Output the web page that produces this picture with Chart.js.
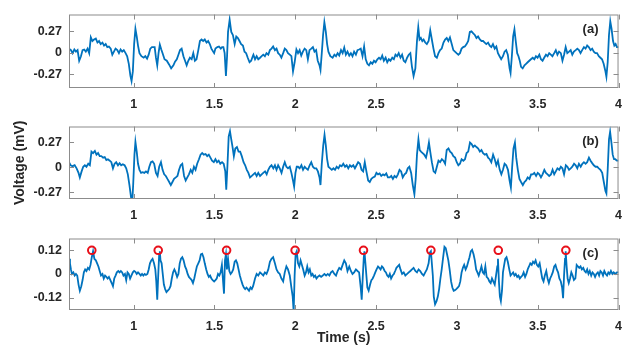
<!DOCTYPE html>
<html>
<head>
<meta charset="utf-8">
<script src="https://cdn.jsdelivr.net/npm/chart.js@4.4.1/dist/chart.umd.min.js"></script>
<style>
  body { margin: 0; background: #fff; }
  #wrap { position: relative; width: 631px; height: 347px; overflow: hidden; }
  #wrap canvas { position: absolute; left: 0; }
</style>
</head>
<body>
<div id="wrap">
  <canvas id="chartA" width="631" height="112" style="top:0px"></canvas>
  <canvas id="chartB" width="631" height="112" style="top:112px"></canvas>
  <canvas id="chartC" width="631" height="123" style="top:224px"></canvas>
</div>
<script>
// tick labels
const xTicks = [1, 1.5, 2, 2.5, 3, 3.5, 4];
const yTicksAB = [-0.27, 0, 0.27];
const yTicksC = [-0.12, 0, 0.12];

// (a) raw signal
const timeA = [
  0.600, 0.612, 0.622, 0.633, 0.643, 0.653, 0.663, 0.674, 0.684, 0.694,
  0.704, 0.715, 0.725, 0.735, 0.745, 0.755, 0.766, 0.776, 0.786, 0.796,
  0.807, 0.817, 0.827, 0.837, 0.847, 0.858, 0.868, 0.878, 0.888, 0.899,
  0.909, 0.919, 0.929, 0.939, 0.950, 0.960, 0.970, 0.980, 0.987, 0.995,
  1.003, 1.011, 1.019, 1.027, 1.036, 1.048, 1.062, 1.072, 1.083, 1.093,
  1.103, 1.113, 1.130, 1.138, 1.146, 1.154, 1.162, 1.171, 1.179, 1.191,
  1.205, 1.220, 1.232, 1.246, 1.256, 1.267, 1.277, 1.287, 1.297, 1.308,
  1.318, 1.328, 1.338, 1.348, 1.359, 1.369, 1.379, 1.389, 1.400, 1.410,
  1.420, 1.430, 1.440, 1.451, 1.461, 1.471, 1.481, 1.492, 1.498, 1.506,
  1.518, 1.528, 1.539, 1.547, 1.555, 1.563, 1.571, 1.578, 1.584, 1.594,
  1.604, 1.614, 1.625, 1.635, 1.645, 1.655, 1.665, 1.676, 1.686, 1.696,
  1.706, 1.717, 1.727, 1.737,
  1.741, 1.751, 1.761, 1.771, 1.782, 1.792, 1.802, 1.812, 1.822, 1.833,
  1.843, 1.853, 1.863, 1.874, 1.884, 1.894, 1.904, 1.914, 1.925, 1.935,
  1.945, 1.955, 1.966, 1.976, 1.986, 1.996, 2.007, 2.017, 2.027, 2.037,
  2.047, 2.058, 2.068, 2.078, 2.088, 2.099, 2.109, 2.119, 2.129, 2.139,
  2.150, 2.156, 2.164, 2.172, 2.180, 2.189, 2.197, 2.205, 2.217, 2.231,
  2.242, 2.252, 2.262, 2.272, 2.283, 2.293, 2.303, 2.313, 2.323, 2.334,
  2.344, 2.354, 2.364, 2.375, 2.385, 2.395, 2.405, 2.416, 2.426, 2.436,
  2.446, 2.456, 2.467, 2.477, 2.487, 2.497, 2.508, 2.518, 2.528, 2.538,
  2.548, 2.559, 2.569, 2.579, 2.589, 2.600, 2.610, 2.620, 2.630, 2.640,
  2.651, 2.661, 2.671, 2.681, 2.692, 2.702, 2.712, 2.722, 2.732, 2.743,
  2.753, 2.761, 2.769, 2.777, 2.786, 2.794, 2.804, 2.814, 2.825, 2.835,
  2.845, 2.855,
  2.865, 2.876, 2.886, 2.896, 2.906, 2.917, 2.927, 2.937, 2.947, 2.957,
  2.968, 2.978, 2.988, 2.998, 3.009, 3.019, 3.029, 3.039, 3.049, 3.060,
  3.070, 3.080, 3.090, 3.101, 3.111, 3.121, 3.131, 3.142, 3.152, 3.162,
  3.172, 3.182, 3.193, 3.203, 3.213, 3.223, 3.234, 3.244, 3.254, 3.264,
  3.274, 3.285, 3.295, 3.305, 3.315, 3.326, 3.332, 3.340, 3.348, 3.356,
  3.364, 3.373, 3.381, 3.389, 3.397, 3.407, 3.418, 3.428, 3.438, 3.448,
  3.458, 3.469, 3.479, 3.489, 3.499, 3.510, 3.520, 3.530, 3.540, 3.551,
  3.561, 3.571, 3.581, 3.591, 3.602, 3.612, 3.622, 3.632, 3.643, 3.653,
  3.663, 3.673, 3.683, 3.694, 3.704, 3.714, 3.724, 3.735, 3.745, 3.755,
  3.765, 3.775, 3.786, 3.796, 3.806, 3.816, 3.827, 3.837, 3.847, 3.857,
  3.867, 3.878, 3.888, 3.898, 3.908, 3.919, 3.925, 3.933, 3.941, 3.949,
  3.957, 3.966, 3.974, 3.982, 3.990, 4.000
];
const voltA = [
  0.053, 0.034, -0.004, 0.042, 0.015, 0.034, -0.099, -0.042, 0.034, 0.042,
  0.015, 0.053, -0.004, 0.194, 0.148, 0.167, 0.179, 0.129, 0.148, 0.110,
  0.129, 0.091, 0.110, 0.072, 0.080, 0.053, -0.023, 0.015, 0.053, 0.034,
  -0.004, 0.042, 0.015, 0.034, -0.004, -0.042, -0.137, -0.289, -0.353, -0.232,
  0.110, 0.300, 0.205, 0.091, -0.004, -0.042, -0.061, -0.042, -0.072, -0.023,
  0.053, 0.072, 0.072, -0.061, -0.156, -0.004, 0.103, 0.042, -0.004, -0.080,
  -0.099, -0.148, -0.194, -0.156, -0.110, -0.080, -0.023, 0.034, 0.053, -0.042,
  -0.099, -0.156, -0.099, -0.061, -0.080, -0.004, -0.099, -0.080, 0.034, 0.148,
  0.167, 0.148, 0.167, 0.129, 0.148, 0.110, 0.053, 0.015, -0.004, 0.053,
  0.072, 0.080, 0.053, 0.072, 0.072, -0.004, -0.289, -0.042, 0.262, 0.414,
  0.262, 0.224, 0.110, 0.205, 0.186, 0.148, 0.110, 0.091, 0.015, -0.004,
  -0.061, -0.118, -0.099, -0.042,
  -0.023, -0.080, -0.042, -0.080, -0.061, -0.042, -0.023, -0.042, -0.004, -0.023,
  0.034, 0.053, 0.080, 0.034, 0.053, -0.004, -0.023, -0.061, -0.004, 0.053,
  0.034, -0.004, -0.023, -0.042, -0.232, -0.118, 0.042, -0.004, 0.034, -0.034,
  0.015, 0.053, 0.034, -0.080, 0.034, 0.053, 0.072, 0.015, 0.034, -0.099,
  -0.156, -0.213, -0.004, 0.224, 0.384, 0.262, 0.110, 0.015, -0.042, -0.061,
  -0.023, -0.042, -0.004, -0.034, 0.034, -0.004, 0.065, -0.023, 0.015, -0.034,
  -0.004, -0.042, 0.015, -0.023, 0.034, 0.042, 0.053, -0.042, 0.080, -0.080,
  -0.137, -0.156, -0.118, -0.137, -0.099, -0.118, -0.080, -0.061, -0.080, -0.034,
  -0.099, -0.061, -0.118, -0.080, -0.099, -0.061, -0.080, -0.023, -0.042, -0.004,
  -0.061, -0.023, -0.099, -0.118, -0.061, -0.023, -0.004, -0.175, -0.289, -0.194,
  0.148, 0.319, 0.167, 0.186, 0.148, 0.167, 0.129, 0.110, 0.148, 0.281,
  0.167, 0.053,
  -0.042, -0.061, -0.004, 0.034, 0.053, 0.129, 0.167, 0.186, 0.148, 0.194,
  0.110, 0.034, 0.015, -0.004, -0.023, -0.004, 0.053, 0.072, 0.080, 0.110,
  0.148, 0.262, 0.270, 0.243, 0.224, 0.186, 0.205, 0.167, 0.148, 0.148,
  0.129, 0.110, 0.129, 0.091, 0.072, 0.110, 0.053, 0.080, -0.004, -0.042,
  -0.080, -0.042, 0.015, 0.034, -0.023, -0.194, -0.251, -0.042, 0.205, 0.293,
  0.148, -0.004, -0.042, -0.099, -0.175, -0.194, -0.156, -0.137, -0.118, -0.099,
  -0.080, -0.061, -0.080, -0.042, -0.061, -0.023, -0.080, -0.099, -0.061, -0.023,
  -0.042, -0.004, -0.023, -0.042, -0.004, 0.034, -0.023, 0.015, -0.004, -0.099,
  -0.023, 0.072, -0.004, 0.015, 0.034, -0.023, 0.015, 0.034, 0.053, 0.034,
  -0.004, 0.034, 0.072, 0.053, 0.091, 0.072, 0.034, 0.053, 0.015, -0.004,
  -0.004, -0.042, -0.061, -0.080, -0.137, -0.232, -0.300, -0.118, 0.224, 0.395,
  0.300, 0.148, 0.091, 0.110, 0.072, 0.072
];

// (b) filtered signal
const timeB = [
  0.600, 0.610, 0.622, 0.635, 0.647, 0.659, 0.667, 0.678, 0.688, 0.698,
  0.708, 0.719, 0.729, 0.739, 0.749, 0.760, 0.770, 0.780, 0.790, 0.800,
  0.811, 0.821, 0.831, 0.841, 0.852, 0.862, 0.872, 0.882, 0.892, 0.903,
  0.913, 0.923, 0.933, 0.944, 0.954, 0.964, 0.974, 0.984, 0.991, 0.997,
  1.005, 1.011, 1.019, 1.027, 1.036, 1.046, 1.056, 1.066, 1.076, 1.087,
  1.097, 1.107, 1.117, 1.127, 1.138, 1.148, 1.158, 1.169, 1.179, 1.189,
  1.199, 1.209, 1.220, 1.230, 1.240, 1.250, 1.261, 1.271, 1.281, 1.291,
  1.301, 1.312, 1.322, 1.332, 1.342, 1.353, 1.363, 1.373, 1.383, 1.393,
  1.404, 1.414, 1.424, 1.434, 1.445, 1.455, 1.465, 1.475, 1.485, 1.496,
  1.506, 1.516, 1.526, 1.536, 1.547, 1.557, 1.567, 1.573, 1.580, 1.588,
  1.596, 1.604, 1.612, 1.620, 1.629, 1.639, 1.649, 1.659, 1.669, 1.680,
  1.690, 1.700, 1.710, 1.720, 1.731, 1.741, 1.751, 1.761, 1.771, 1.782,
  1.792, 1.802, 1.813, 1.823, 1.833, 1.843, 1.853, 1.864, 1.874, 1.884,
  1.894, 1.904, 1.915, 1.925, 1.935, 1.945, 1.955, 1.966, 1.976, 1.986,
  1.993, 2.001, 2.009, 2.017, 2.027, 2.038, 2.048, 2.058, 2.068, 2.078,
  2.089, 2.099, 2.109, 2.119,
  2.130, 2.140, 2.150, 2.156, 2.164, 2.173, 2.181, 2.189, 2.197, 2.205,
  2.216, 2.226, 2.236, 2.246, 2.256, 2.267, 2.277, 2.287, 2.297, 2.308,
  2.318, 2.328, 2.338, 2.348, 2.359, 2.369, 2.379, 2.389, 2.400, 2.410,
  2.420, 2.430, 2.440, 2.451, 2.461, 2.471, 2.481, 2.492, 2.502, 2.512,
  2.522, 2.532, 2.543, 2.553, 2.563, 2.573, 2.584, 2.594, 2.604, 2.614,
  2.625, 2.635, 2.645, 2.655, 2.665, 2.676, 2.686, 2.696, 2.706, 2.717,
  2.727, 2.737, 2.745, 2.753, 2.762, 2.770, 2.778, 2.788, 2.798, 2.809,
  2.819, 2.827, 2.835, 2.845, 2.856, 2.866, 2.876, 2.886, 2.896, 2.907,
  2.917, 2.927, 2.937, 2.948, 2.958, 2.968, 2.978, 2.989, 2.999, 3.009,
  3.019, 3.029, 3.040, 3.050, 3.060, 3.070, 3.081, 3.091, 3.101, 3.111,
  3.121, 3.132, 3.142, 3.152, 3.162, 3.173, 3.183, 3.193, 3.203, 3.213,
  3.224, 3.234, 3.244, 3.254, 3.265, 3.275, 3.285, 3.295, 3.305, 3.316,
  3.326, 3.334, 3.342, 3.350, 3.359, 3.367, 3.377, 3.387, 3.397, 3.408,
  3.418, 3.428, 3.438, 3.449, 3.459, 3.469, 3.479, 3.490, 3.500, 3.510,
  3.520, 3.530, 3.541, 3.551, 3.561, 3.571, 3.582, 3.592, 3.602, 3.612,
  3.622, 3.633, 3.643, 3.653, 3.663, 3.674, 3.684, 3.694, 3.704, 3.714,
  3.725, 3.735, 3.745, 3.755, 3.766, 3.776, 3.786, 3.796, 3.806, 3.817,
  3.827, 3.837, 3.847, 3.858, 3.868, 3.878, 3.888, 3.899, 3.909, 3.919,
  3.925, 3.933, 3.941, 3.948, 3.956, 3.964, 3.972, 3.980, 3.990, 4.000
];
const voltB = [
  0.056, 0.023, 0.013, 0.023, -0.010, -0.059, -0.108, -0.043, 0.007, 0.023,
  0.007, 0.039, 0.023, 0.170, 0.154, 0.177, 0.137, 0.154, 0.121, 0.121,
  0.105, 0.111, 0.079, 0.088, 0.072, 0.056, -0.010, 0.039, 0.056, 0.023,
  0.046, 0.023, 0.033, 0.023, -0.010, -0.075, -0.190, -0.321, -0.386, -0.190,
  0.137, 0.275, 0.170, 0.039, -0.026, -0.059, -0.052, -0.059, -0.043, -0.059,
  0.007, 0.056, 0.065, 0.039, -0.059, -0.092, 0.007, 0.056, -0.026, -0.075,
  -0.092, -0.124, -0.157, -0.190, -0.157, -0.124, -0.108, -0.092, -0.026, 0.023,
  0.039, -0.092, -0.141, -0.108, -0.075, -0.026, -0.059, 0.007, -0.026, 0.039,
  0.088, 0.137, 0.154, 0.137, 0.144, 0.121, 0.137, 0.105, 0.072, 0.056,
  0.088, 0.056, 0.072, 0.039, 0.056, 0.039, -0.043, -0.239, 0.007, 0.334,
  0.389, 0.301, 0.219, 0.121, 0.203, 0.219, 0.170, 0.170, 0.121, 0.056,
  0.023, -0.026, -0.059, -0.108, -0.092, -0.075, -0.059, -0.092, -0.059, -0.092,
  -0.075, -0.059, -0.043, -0.075, -0.026, 0.007, 0.023, -0.010, 0.023, -0.026,
  0.023, -0.010, -0.059, 0.007, 0.056, 0.007, -0.010, 0.007, -0.059, -0.141,
  -0.206, -0.059, 0.007, 0.007, -0.010, 0.023, -0.026, 0.007, -0.010, -0.026,
  0.023, 0.056, 0.007, -0.010,
  -0.010, -0.043, -0.108, -0.190, 0.039, 0.236, 0.350, 0.236, 0.088, 0.007,
  -0.010, -0.026, -0.010, -0.026, 0.007, -0.010, 0.023, 0.013, 0.039, 0.007,
  0.023, -0.010, 0.023, 0.007, 0.023, -0.010, 0.023, 0.056, 0.039, -0.026,
  -0.043, 0.056, -0.043, -0.141, -0.157, -0.124, -0.108, -0.098, -0.059, -0.075,
  -0.065, -0.092, -0.075, -0.085, -0.065, -0.108, -0.108, -0.092, -0.124, -0.092,
  -0.108, -0.075, -0.026, -0.043, -0.108, -0.075, -0.059, -0.010, 0.007, -0.059,
  -0.190, -0.288, -0.124, 0.137, 0.301, 0.187, 0.170, 0.154, 0.137, 0.105,
  0.187, 0.268, 0.170, 0.056, -0.043, -0.059, 0.007, 0.072, 0.056, 0.088,
  0.072, 0.039, 0.187, 0.203, 0.170, 0.154, 0.121, 0.105, 0.056, 0.023,
  0.039, 0.088, 0.072, 0.088, 0.154, 0.170, 0.268, 0.252, 0.219, 0.236,
  0.219, 0.203, 0.170, 0.187, 0.154, 0.137, 0.144, 0.105, 0.088, 0.056,
  0.137, 0.088, 0.023, 0.072, -0.026, -0.075, -0.026, 0.039, 0.023, -0.026,
  -0.141, -0.216, 0.007, 0.203, 0.268, 0.105, -0.026, -0.124, -0.157, -0.190,
  -0.157, -0.141, -0.108, -0.124, -0.075, -0.075, -0.059, -0.092, -0.059, -0.075,
  -0.108, -0.075, -0.026, -0.059, -0.075, -0.092, -0.075, -0.026, -0.075, -0.043,
  -0.010, -0.026, 0.007, -0.010, -0.075, 0.023, 0.007, -0.026, -0.010, 0.007,
  0.039, 0.023, -0.010, 0.039, 0.007, 0.039, 0.056, 0.039, 0.056, 0.105,
  0.072, 0.046, 0.023, 0.007, 0.007, -0.010, -0.026, -0.059, -0.157, -0.255,
  -0.281, -0.026, 0.301, 0.383, 0.268, 0.137, 0.088, 0.088, 0.072, 0.072
];

// (c) detail signal with detected R peaks
const timeC = [
  0.600, 0.606, 0.612, 0.618, 0.627, 0.635, 0.643, 0.651, 0.659, 0.667,
  0.676, 0.684, 0.692, 0.700, 0.708, 0.717, 0.725, 0.733, 0.741, 0.749,
  0.757, 0.766, 0.774, 0.782, 0.790, 0.798, 0.807, 0.815, 0.823, 0.831,
  0.839, 0.847, 0.856, 0.864, 0.872, 0.880, 0.888, 0.896, 0.905, 0.913,
  0.921, 0.929, 0.937, 0.946, 0.954, 0.962, 0.970, 0.978, 0.986, 0.995,
  1.003, 1.011, 1.019, 1.027, 1.036, 1.044, 1.052, 1.060, 1.068, 1.076,
  1.085, 1.093, 1.101, 1.109, 1.117, 1.126, 1.134, 1.140, 1.146, 1.152,
  1.158, 1.162, 1.166, 1.173, 1.179, 1.187, 1.195, 1.203, 1.211, 1.220,
  1.228, 1.236, 1.244, 1.252, 1.260, 1.269, 1.277, 1.285, 1.293, 1.301,
  1.309, 1.318, 1.326, 1.334, 1.342, 1.350, 1.359, 1.367, 1.375, 1.383,
  1.391, 1.400, 1.408, 1.416, 1.424, 1.432, 1.440, 1.449, 1.457, 1.465,
  1.473, 1.481, 1.489, 1.498, 1.506, 1.514, 1.522, 1.530, 1.538, 1.546,
  1.552, 1.559, 1.565, 1.571, 1.577, 1.584, 1.592, 1.600, 1.608, 1.616,
  1.625, 1.633, 1.641, 1.649, 1.657, 1.665, 1.674, 1.682, 1.690, 1.698,
  1.706, 1.714, 1.723, 1.731, 1.739,
  1.751, 1.761, 1.771, 1.782, 1.792, 1.802, 1.812, 1.822, 1.833, 1.843,
  1.853, 1.863, 1.874, 1.884, 1.894, 1.904, 1.914, 1.925, 1.935, 1.945,
  1.955, 1.966, 1.976, 1.984, 1.990, 1.996, 2.002, 2.009, 2.017, 2.025,
  2.033, 2.041, 2.049, 2.058, 2.066, 2.074, 2.082, 2.090, 2.099, 2.107,
  2.115, 2.123, 2.131, 2.139, 2.150, 2.160, 2.170, 2.180, 2.191, 2.201,
  2.211, 2.221, 2.231, 2.242, 2.252, 2.262, 2.272, 2.283, 2.293, 2.303,
  2.313, 2.323, 2.334, 2.344, 2.354, 2.364, 2.375, 2.385, 2.395, 2.405,
  2.411, 2.418, 2.424, 2.428, 2.434, 2.440, 2.446, 2.454, 2.463, 2.471,
  2.479, 2.487, 2.495, 2.503, 2.512, 2.520, 2.528, 2.536, 2.544, 2.553,
  2.561, 2.569, 2.577, 2.585, 2.593, 2.602, 2.610, 2.618, 2.626, 2.634,
  2.643, 2.651, 2.661, 2.671, 2.681, 2.692, 2.702, 2.712, 2.722, 2.732,
  2.743, 2.753, 2.763, 2.773, 2.784, 2.794, 2.804, 2.814, 2.825, 2.833,
  2.839,
  2.851, 2.857, 2.865, 2.874, 2.882, 2.890, 2.898, 2.906, 2.915, 2.923,
  2.931, 2.939, 2.947, 2.955, 2.964, 2.972, 2.980, 2.988, 2.996, 3.005,
  3.013, 3.021, 3.029, 3.037, 3.045, 3.054, 3.062, 3.070, 3.078, 3.086,
  3.094, 3.103, 3.111, 3.119, 3.127, 3.135, 3.144, 3.152, 3.160, 3.168,
  3.176, 3.184, 3.193, 3.201, 3.209, 3.217, 3.225, 3.234, 3.242, 3.250,
  3.254, 3.260, 3.266, 3.272, 3.279, 3.285, 3.291, 3.299, 3.307, 3.315,
  3.324, 3.332, 3.340, 3.348, 3.356, 3.364, 3.373, 3.381, 3.389, 3.397,
  3.405, 3.413, 3.422, 3.430, 3.438, 3.446, 3.454, 3.463, 3.471, 3.479,
  3.487, 3.495, 3.503, 3.512, 3.520, 3.528, 3.536, 3.544, 3.553, 3.561,
  3.569, 3.577, 3.585, 3.593, 3.602, 3.610, 3.618, 3.626, 3.634, 3.643,
  3.651, 3.657, 3.663, 3.669, 3.673, 3.679, 3.685, 3.692, 3.700, 3.708,
  3.716, 3.724, 3.733, 3.741, 3.749, 3.757, 3.765, 3.773, 3.782, 3.790,
  3.798, 3.806, 3.814, 3.822, 3.831, 3.839, 3.847, 3.855, 3.863, 3.872,
  3.880, 3.888, 3.896, 3.904, 3.912, 3.921, 3.929, 3.937, 3.945, 3.953,
  3.962, 3.970, 3.980, 3.990, 4.000
];
const voltC = [
  0.077, 0.054, 0.023, 0.000, 0.008, -0.008, 0.000, -0.008, -0.054, -0.085,
  -0.062, -0.031, 0.008, 0.023, 0.015, 0.031, 0.023, 0.046, 0.085, 0.115,
  0.077, 0.069, 0.054, 0.038, 0.015, -0.008, 0.000, -0.023, -0.008, -0.015,
  -0.023, -0.015, -0.031, -0.046, -0.062, -0.023, -0.008, 0.008, 0.015, 0.008,
  0.015, 0.008, -0.008, 0.000, -0.031, 0.008, 0.000, -0.023, -0.008, 0.008,
  0.015, 0.011, 0.000, 0.008, 0.000, -0.008, 0.000, -0.008, 0.000, -0.005,
  0.000, 0.023, 0.054, 0.069, 0.077, 0.054, 0.023, -0.038, -0.131, -0.008,
  0.100, 0.115, 0.069, 0.054, 0.008, -0.054, -0.077, -0.092, -0.085, -0.077,
  -0.062, -0.023, 0.008, 0.023, 0.008, -0.015, 0.000, 0.054, 0.077, 0.085,
  0.069, 0.038, 0.023, 0.000, -0.015, -0.023, -0.031, -0.046, -0.023, 0.008,
  0.038, 0.054, 0.069, 0.100, 0.103, 0.085, 0.054, 0.023, 0.000, -0.015,
  -0.008, -0.023, -0.031, -0.038, -0.031, -0.023, 0.000, -0.008, 0.008, 0.046,
  -0.023, -0.100, 0.069, 0.100, 0.023, 0.077, 0.015, 0.000, 0.008, 0.023,
  0.062, 0.069, 0.054, 0.023, -0.008, -0.031, -0.054, -0.069, -0.077, -0.069,
  -0.077, -0.085, -0.069, -0.077, -0.062,
  -0.023, 0.000, -0.008, 0.008, 0.000, -0.008, 0.008, 0.000, 0.023, 0.062,
  0.077, 0.085, 0.054, 0.023, 0.008, 0.000, -0.023, -0.038, 0.008, 0.038,
  0.023, -0.008, -0.069, -0.115, -0.192, -0.008, 0.100, 0.115, 0.054, 0.038,
  0.069, 0.046, 0.023, -0.008, 0.008, 0.038, 0.008, 0.023, -0.008, 0.000,
  -0.015, -0.008, -0.023, -0.015, -0.008, -0.015, -0.008, 0.000, -0.008, 0.000,
  -0.008, 0.008, 0.015, 0.000, -0.008, 0.015, 0.031, 0.023, 0.046, 0.069,
  0.054, 0.015, 0.038, 0.015, 0.000, 0.008, 0.023, 0.015, 0.008, -0.069,
  -0.131, -0.008, 0.085, 0.115, 0.054, -0.008, -0.069, -0.085, -0.054, -0.031,
  -0.023, -0.008, 0.008, 0.023, 0.038, 0.031, 0.023, 0.038, 0.031, 0.015,
  0.008, -0.008, -0.015, 0.000, -0.023, -0.008, 0.000, 0.015, 0.031, 0.038,
  0.046, 0.023, 0.000, 0.008, -0.008, 0.000, 0.008, 0.015, 0.023, 0.031,
  0.015, 0.008, 0.023, 0.015, 0.000, -0.008, 0.008, 0.023, 0.054, 0.108,
  0.115,
  -0.008, -0.115, -0.154, -0.138, -0.115, -0.077, -0.023, 0.023, 0.085, 0.138,
  0.131, 0.100, 0.069, 0.023, -0.038, -0.069, -0.085, -0.082, -0.077, -0.069,
  -0.062, -0.038, 0.008, 0.031, 0.046, 0.023, 0.038, 0.062, 0.085, 0.115,
  0.123, 0.100, 0.069, 0.023, 0.008, -0.008, 0.015, 0.038, 0.008, 0.000,
  0.038, -0.015, -0.023, -0.038, -0.046, -0.023, -0.038, -0.054, -0.008, 0.038,
  0.077, -0.038, -0.115, -0.138, -0.085, 0.008, 0.038, 0.077, 0.085, 0.062,
  0.023, -0.008, 0.000, 0.008, -0.008, 0.000, -0.015, -0.008, -0.023, -0.015,
  -0.008, 0.008, -0.015, 0.000, 0.023, 0.038, 0.054, 0.046, 0.062, 0.054,
  0.069, 0.046, 0.038, 0.054, 0.015, -0.023, -0.038, -0.008, 0.015, -0.023,
  -0.046, -0.023, -0.008, 0.008, 0.038, 0.046, 0.023, 0.008, -0.023, -0.038,
  -0.069, -0.123, -0.008, 0.077, 0.115, 0.038, -0.023, -0.046, -0.023, 0.008,
  -0.008, -0.031, -0.023, 0.046, 0.038, 0.031, 0.038, 0.023, 0.031, 0.015,
  0.008, 0.023, 0.000, 0.015, -0.008, 0.008, 0.000, -0.015, 0.000, 0.008,
  -0.008, 0.015, 0.008, -0.008, 0.015, 0.000, -0.008, 0.008, 0.000, 0.015,
  0.000, 0.008, 0.000, 0.008, 0.008
];

// detected peaks (red circles)
const peakTime = [0.741, 1.152, 1.575, 1.999, 2.422, 2.839, 3.256, 3.674];
const peakVolt = [0.12, 0.12, 0.12, 0.12, 0.12, 0.12, 0.12, 0.12];

const lineColor = '#0072BD';
const textColor = '#262626';
const boxColor = '#8c8c8c';
const fontFamily = '"Liberation Sans", Arial, sans-serif';
const tickFont = { family: fontFamily, size: 12.5, weight: 'bold' };
const titleFont = { family: fontFamily, size: 14, weight: 'bold' };

// MATLAB-like box with inward ticks and the panel tag
const framePlugin = {
    id: 'frame',
    afterDatasetsDraw(chart, args, opts) {
        const { ctx, chartArea: a, scales: { x, y } } = chart;
        ctx.save();
        ctx.strokeStyle = boxColor;
        ctx.lineWidth = 1;
        ctx.strokeRect(a.left + 0.5, a.top + 0.5, a.width - 1, a.height - 1);
        ctx.beginPath();
        x.ticks.forEach(t => {
            const px = Math.round(x.getPixelForValue(t.value)) + 0.5;
            ctx.moveTo(px, a.bottom); ctx.lineTo(px, a.bottom - 5);
            ctx.moveTo(px, a.top); ctx.lineTo(px, a.top + 5);
        });
        y.ticks.forEach(t => {
            const py = Math.round(y.getPixelForValue(t.value)) + 0.5;
            ctx.moveTo(a.left, py); ctx.lineTo(a.left + 5, py);
            ctx.moveTo(a.right, py); ctx.lineTo(a.right - 5, py);
        });
        ctx.stroke();
        ctx.fillStyle = textColor;
        ctx.font = 'bold 13px ' + fontFamily;
        ctx.textAlign = 'center';
        ctx.textBaseline = 'middle';
        ctx.fillText(opts.tag, a.right - 28, a.top + 15);
        ctx.restore();
    }
};

function toPoints(times, volts) {
    return times.map((t, i) => ({ x: t, y: volts[i] }));
}

function drawPanel(id, cfg) {
    const datasets = [{
        data: toPoints(cfg.times, cfg.volts),
        borderColor: lineColor,
        borderWidth: 1.8,
        pointRadius: 0,
        tension: 0,
        fill: false,
        order: 1
    }];
    if (cfg.peaks) {
        datasets.push({
            data: cfg.peaks,
            showLine: false,
            pointStyle: 'circle',
            pointRadius: 3.8,
            pointBorderWidth: 2,
            pointBorderColor: '#e8101a',
            pointBackgroundColor: 'rgba(0,0,0,0)',
            order: 0
        });
    }

    return new Chart(document.getElementById(id), {
        type: 'line',
        data: { datasets: datasets },
        plugins: [framePlugin],
        options: {
            responsive: false,
            animation: false,
            devicePixelRatio: 1,
            events: [],
            layout: { padding: { top: cfg.padTop, right: 9, left: 0, bottom: 0 } },
            plugins: {
                legend: { display: false },
                tooltip: { enabled: false },
                frame: { tag: cfg.tag }
            },
            scales: {
                x: {
                    type: 'linear',
                    min: 0.6,
                    max: 4,
                    afterBuildTicks: axis => { axis.ticks = xTicks.map(v => ({ value: v })); },
                    afterFit: axis => { axis.height = cfg.xHeight; },
                    grid: { display: false, drawTicks: false },
                    border: { display: false },
                    ticks: {
                        padding: 9, maxRotation: 0, autoSkip: false,
                        font: tickFont, color: textColor,
                        callback: v => String(v)
                    },
                    title: {
                        display: !!cfg.xTitle, text: cfg.xTitle || '', color: textColor,
                        font: titleFont, padding: { top: 0, bottom: 0 }
                    }
                },
                y: {
                    min: cfg.yMin,
                    max: cfg.yMax,
                    afterBuildTicks: axis => { axis.ticks = cfg.yTicks.map(v => ({ value: v })); },
                    afterFit: axis => { axis.width = 69; },
                    grid: { display: false, drawTicks: false },
                    border: { display: false },
                    ticks: {
                        padding: 7, font: tickFont, color: textColor,
                        callback: v => String(v)
                    },
                    title: {
                        display: !!cfg.yTitle, text: cfg.yTitle || '', color: textColor,
                        font: titleFont, padding: { top: 12, bottom: 0 }
                    }
                }
            }
        }
    });
}

document.addEventListener('DOMContentLoaded', function () {
    drawPanel('chartA', {
        times: timeA, volts: voltA, yMin: -0.44, yMax: 0.48, yTicks: yTicksAB,
        tag: '(a)', padTop: 8, xHeight: 24
    });
    drawPanel('chartB', {
        times: timeB, volts: voltB, yMin: -0.34, yMax: 0.44, yTicks: yTicksAB,
        tag: '(b)', padTop: 7, xHeight: 25, yTitle: 'Voltage (mV)'
    });
    drawPanel('chartC', {
        times: timeC, volts: voltC, yMin: -0.183, yMax: 0.18, yTicks: yTicksC,
        tag: '(c)', padTop: 7, xHeight: 37, xTitle: 'Time (s)',
        peaks: toPoints(peakTime, peakVolt)
    });
});
</script>
</body>
</html>
